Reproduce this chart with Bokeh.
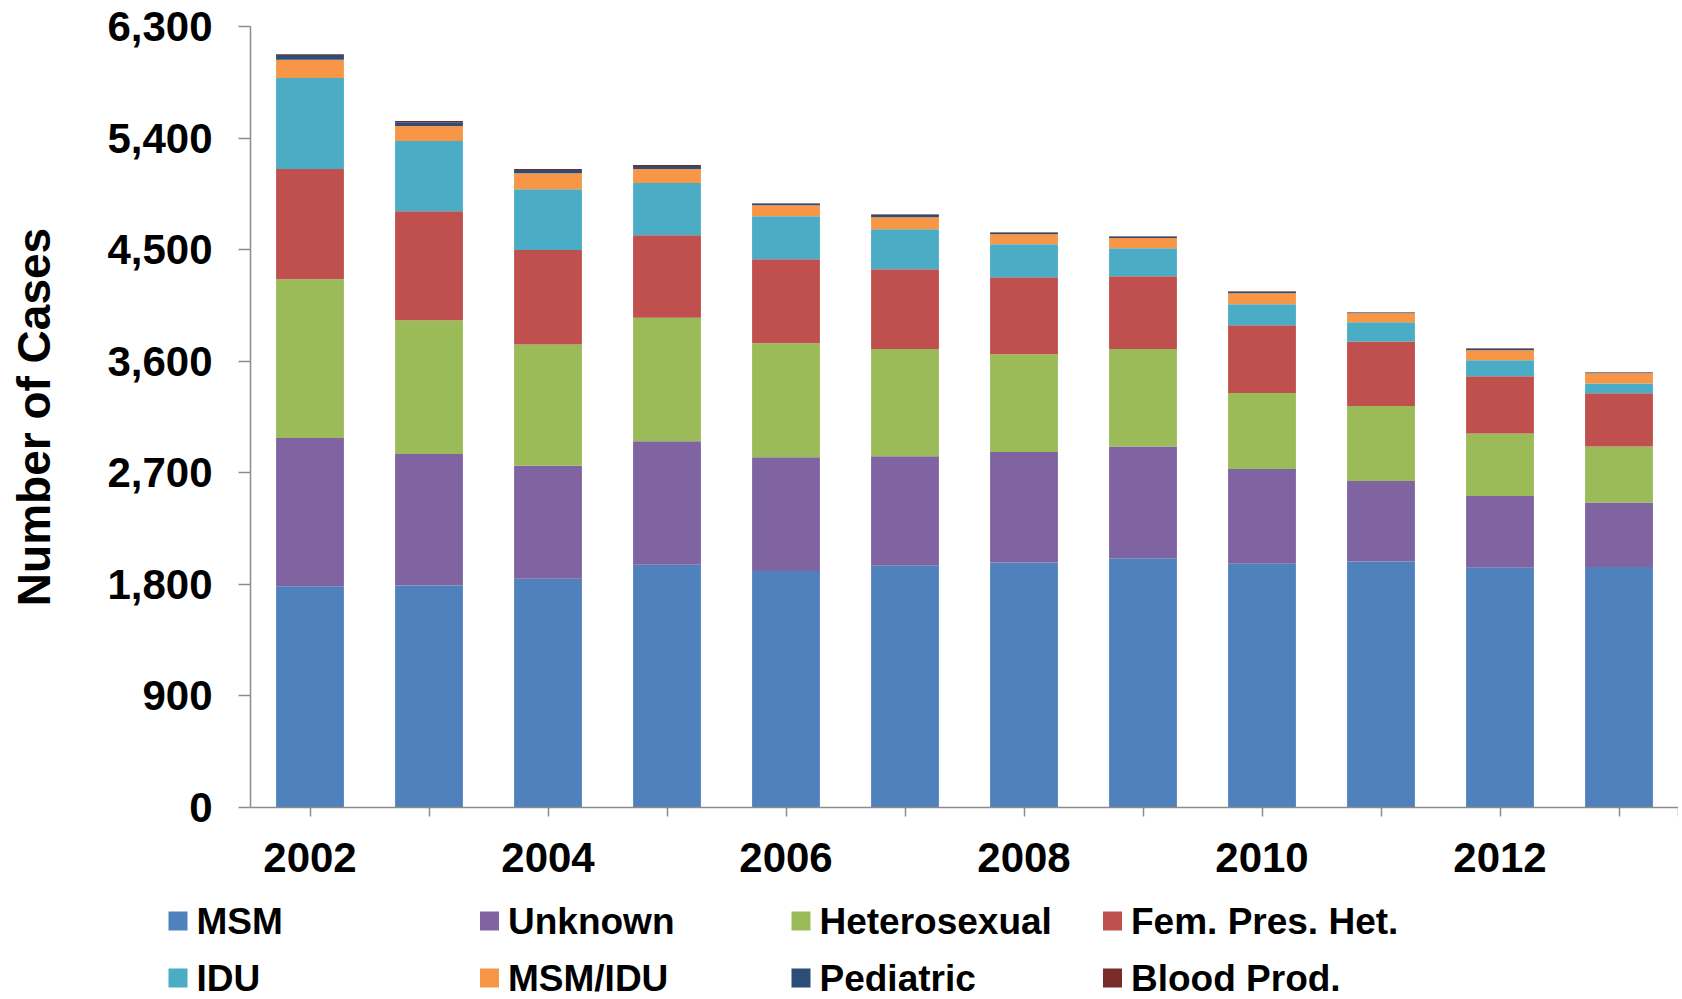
from bokeh.plotting import figure
from bokeh.layouts import column
from bokeh.models import Range1d, FixedTicker, NumeralTickFormatter
from bokeh.core.properties import value
from bokeh.embed import file_html
from bokeh.resources import INLINE

# ---- data ----
years     = [2002, 2003, 2004, 2005, 2006, 2007, 2008, 2009, 2010, 2011, 2012, 2013]
msm       = [1785, 1790, 1846, 1959, 1907, 1950, 1976, 2010, 1967, 1985, 1933, 1941]
unknown   = [1196, 1061,  910,  996,  918,  884,  892,  902,  763,  649,  580,  520]
hetero    = [1281, 1079,  979,  995,  920,  864,  788,  786,  613,  604,  503,  451]
fem_pres  = [ 888,  880,  762,  667,  678,  644,  622,  588,  547,  522,  462,  429]
idu       = [ 735,  566,  491,  420,  347,  323,  266,  226,  170,  154,  129,   80]
msm_idu   = [ 146,  121,  129,  113,   89,   97,   81,   81,   88,   73,   81,   81]
pediatric = [  40,   30,   25,   25,   14,   20,   12,   13,   13,    5,   13,    6]
blood     = [   5,   10,    8,    7,    2,    4,    4,    3,    3,    2,    3,    2]

series_keys = ["msm", "unknown", "hetero", "fem", "idu", "msmidu", "ped", "blood"]
series_labels = ["MSM", "Unknown", "Heterosexual", "Fem. Pres. Het.",
                 "IDU", "MSM/IDU", "Pediatric", "Blood Prod."]
colors = ["#4F81BD", "#8064A2", "#9BBB59", "#C0504D",
          "#4BACC6", "#F79646", "#2C4D75", "#772C2A"]
y_ticks = [0, 900, 1800, 2700, 3600, 4500, 5400, 6300]
x_label_years = [2002, 2004, 2006, 2008, 2010, 2012]

data = {"years": years, "msm": msm, "unknown": unknown, "hetero": hetero,
        "fem": fem_pres, "idu": idu, "msmidu": msm_idu, "ped": pediatric,
        "blood": blood}

FONT = "Liberation Sans"
AXIS_COLOR = "#8C8C8C"
W = 1678

# ---- main chart ----
p = figure(x_range=Range1d(years[0] - 0.5, years[-1] + 0.5),
           y_range=Range1d(0, 6300),
           width=W, height=890,
           output_backend="svg", toolbar_location=None,
           min_border_left=250, min_border_right=0,
           min_border_top=26, min_border_bottom=83)
p.frame_align = False

p.vbar_stack(series_keys, x="years", width=0.57, color=colors,
             source=data, line_color=None)

p.xgrid.grid_line_color = None
p.ygrid.grid_line_color = None
p.outline_line_color = None

# y axis
p.yaxis.ticker = FixedTicker(ticks=y_ticks)
p.yaxis.formatter = NumeralTickFormatter(format="0,0")
p.yaxis.major_label_text_font = FONT
p.yaxis.major_label_text_font_style = "bold"
p.yaxis.major_label_text_font_size = "42px"
p.yaxis.major_label_text_color = "black"
p.yaxis.major_label_standoff = 26
p.yaxis.major_tick_out = 12
p.yaxis.major_tick_in = 0
p.yaxis.minor_tick_line_color = None
p.yaxis.axis_line_color = AXIS_COLOR
p.yaxis.axis_line_width = 1.5
p.yaxis.major_tick_line_color = AXIS_COLOR
p.yaxis.major_tick_line_width = 1.5
p.yaxis.axis_label = "Number of Cases"
p.yaxis.axis_label_text_font = FONT
p.yaxis.axis_label_text_font_style = "bold"
p.yaxis.axis_label_text_font_size = "46px"
p.yaxis.axis_label_text_color = "black"
p.yaxis.axis_label_standoff = 44

# x axis: labels on even years, ticks on every year
odd_ticks = [y for y in years if y not in x_label_years] + [years[-1] + 0.5]
p.xaxis.ticker = FixedTicker(ticks=x_label_years, minor_ticks=odd_ticks)
p.xaxis.major_label_text_font = FONT
p.xaxis.major_label_text_font_style = "bold"
p.xaxis.major_label_text_font_size = "42px"
p.xaxis.major_label_text_color = "black"
p.xaxis.major_label_standoff = 26
p.xaxis.major_tick_out = 9
p.xaxis.major_tick_in = 0
p.xaxis.minor_tick_out = 9
p.xaxis.minor_tick_in = 0
p.xaxis.axis_line_color = AXIS_COLOR
p.xaxis.axis_line_width = 1.5
p.xaxis.major_tick_line_color = AXIS_COLOR
p.xaxis.major_tick_line_width = 1.5
p.xaxis.minor_tick_line_color = AXIS_COLOR
p.xaxis.minor_tick_line_width = 1.5

# ---- legend (separate strip below the chart, x/y in pixels) ----
LEG_H = 108
leg = figure(x_range=Range1d(0, W), y_range=Range1d(LEG_H, 0),
             width=W, height=LEG_H, output_backend="svg", toolbar_location=None,
             x_axis_location=None, y_axis_location=None,
             min_border=0, min_border_left=0, min_border_right=0,
             min_border_top=0, min_border_bottom=0)
leg.frame_align = False
leg.xgrid.grid_line_color = None
leg.ygrid.grid_line_color = None
leg.outline_line_color = None

col_x0, col_dx = 177.5, 311.5
row_y0, row_dy = 30.5, 57
sq_x = [col_x0 + col_dx * (i % 4) for i in range(len(series_labels))]
sq_y = [row_y0 + row_dy * (i // 4) for i in range(len(series_labels))]
txt_x = [x + 18.5 for x in sq_x]

leg.scatter(x=sq_x, y=sq_y, marker="square", size=19, fill_color=colors,
            line_color=None)
leg.text(x=txt_x, y=sq_y, text=series_labels, text_font=value(FONT),
         text_font_style="bold", text_font_size="37px", text_color="black",
         text_align="left", text_baseline="middle")

layout = column(p, leg, spacing=0)
open("out.html", "w").write(file_html(layout, INLINE))
